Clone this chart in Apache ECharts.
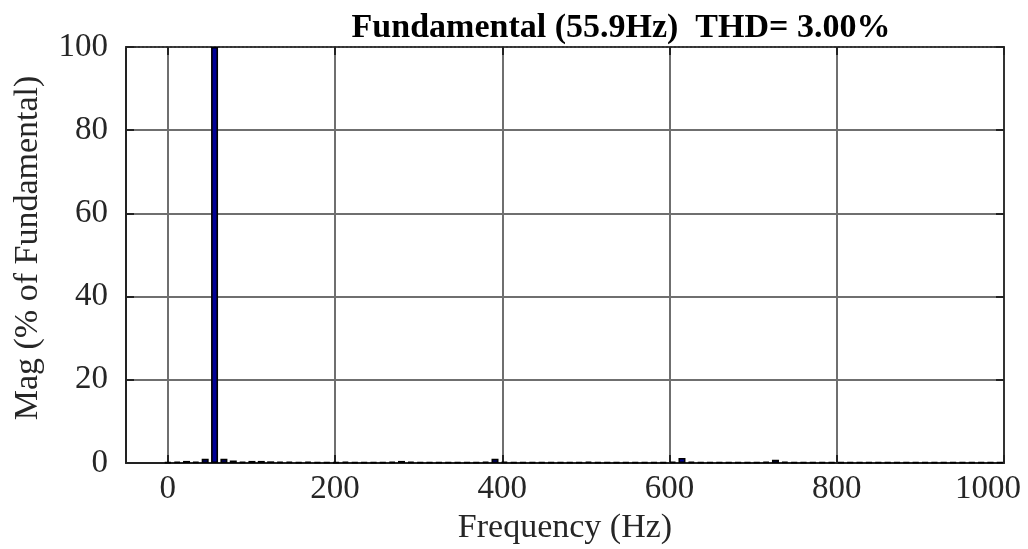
<!DOCTYPE html>
<html>
<head>
<meta charset="utf-8">
<title>FFT spectrum</title>
<script src="https://cdn.jsdelivr.net/npm/echarts@6/dist/echarts.min.js"></script>
<style>
  html, body { margin: 0; padding: 0; background: #fff; }
  #chart { width: 1028px; height: 549px; }
</style>
</head>
<body>
<div id="chart"></div>
<script>
// Harmonic bins of the FFT (Hz), spacing = fundamental / 5
const freqs = [
  0, 11.2, 22.4, 33.5, 44.7, 55.9, 67.1, 78.3, 89.4, 100.6,
  111.8, 123.0, 134.2, 145.3, 156.5, 167.7, 178.9, 190.1, 201.2, 212.4,
  223.6, 234.8, 246.0, 257.1, 268.3, 279.5, 290.7, 301.9, 313.0, 324.2,
  335.4, 346.6, 357.8, 368.9, 380.1, 391.3, 402.5, 413.7, 424.8, 436.0,
  447.2, 458.4, 469.6, 480.7, 491.9, 503.1, 514.3, 525.5, 536.6, 547.8,
  559.0, 570.2, 581.4, 592.5, 603.7, 614.9, 626.1, 637.3, 648.4, 659.6,
  670.8, 682.0, 693.2, 704.3, 715.5, 726.7, 737.9, 749.1, 760.2, 771.4,
  782.6, 793.8, 805.0, 816.1, 827.3, 838.5, 849.7, 860.9, 872.0, 883.2,
  894.4, 905.6, 916.8, 927.9, 939.1, 950.3, 961.5, 972.7, 983.8, 995.0
];

// Magnitude of each bin (% of fundamental)
const mags = [
  0.2, 0.3, 0.5, 0.3, 1.0, 100, 1.0, 0.6, 0.3, 0.5,
  0.5, 0.4, 0.3, 0.3, 0.2, 0.3, 0.2, 0.2, 0.2, 0.3,
  0.2, 0.2, 0.2, 0.2, 0.3, 0.5, 0.3, 0.2, 0.2, 0.2,
  0.2, 0.2, 0.2, 0.2, 0.3, 1.0, 0.3, 0.2, 0.2, 0.2,
  0.2, 0.2, 0.2, 0.2, 0.2, 0.3, 0.2, 0.2, 0.2, 0.2,
  0.2, 0.2, 0.2, 0.2, 0.3, 1.2, 0.3, 0.2, 0.2, 0.2,
  0.2, 0.2, 0.2, 0.2, 0.3, 0.8, 0.3, 0.2, 0.2, 0.2,
  0.2, 0.2, 0.2, 0.2, 0.2, 0.2, 0.2, 0.2, 0.2, 0.2,
  0.2, 0.2, 0.2, 0.2, 0.2, 0.2, 0.2, 0.2, 0.2, 0.2
];

const xTicks = [0, 200, 400, 600, 800, 1000];
const yTicks = [0, 20, 40, 60, 80, 100];

const titleText = 'Fundamental (55.9Hz)  THD= 3.00%';
const xName = 'Frequency (Hz)';
const yName = 'Mag (% of Fundamental)';

const serif = '"Liberation Serif", "DejaVu Serif", serif';
const gridColor = '#6f6f6f';
const inkColor = '#262626';

const chart = echarts.init(document.getElementById('chart'), null, { renderer: 'canvas' });

const option = {
  animation: false,
  backgroundColor: '#fff',
  title: {
    text: titleText,
    left: 616,
    top: 6,
    textAlign: 'center',
    textStyle: { fontFamily: serif, fontWeight: 'bold', fontSize: 34, color: '#000' }
  },
  grid: { left: 126, right: 24, top: 47, bottom: 86, containLabel: false, outerBoundsMode: 'none' },
  // vertical y-axis title, reading bottom to top
  graphic: [
    {
      type: 'text',
      x: 28,
      y: 248,
      rotation: Math.PI / 2,
      style: {
        text: yName,
        font: '34px ' + serif,
        fill: inkColor,
        align: 'center',
        verticalAlign: 'middle'
      }
    }
  ],
  xAxis: [
    {
      type: 'value',
      min: -50,
      max: 1000,
      name: xName,
      nameLocation: 'middle',
      nameGap: 48,
      nameTextStyle: { fontFamily: serif, fontSize: 34, color: inkColor },
      axisLine: { onZero: false, lineStyle: { color: '#222', width: 2 } },
      axisTick: { show: true, inside: true, length: 8, customValues: xTicks, lineStyle: { color: '#222', width: 2 } },
      axisLabel: {
        customValues: xTicks, margin: 10, fontFamily: serif, fontSize: 33, color: inkColor,
        formatter: (v) => (v === 1000 ? '{last|' + v + '}' : String(v)),
        rich: {
          last: { fontFamily: serif, fontSize: 33, color: inkColor, padding: [0, 32, 0, 0] }
        }
      },
      splitLine: { show: true, lineStyle: { color: gridColor, width: 2 } }
    },
    {
      type: 'value',
      position: 'top',
      min: -50,
      max: 1000,
      axisLine: { onZero: false, lineStyle: { color: '#333', width: 2, type: [2, 2] } },
      axisTick: { show: true, inside: true, length: 8, customValues: xTicks, lineStyle: { color: '#222', width: 2 } },
      axisLabel: { show: false },
      splitLine: { show: false }
    }
  ],
  yAxis: [
    {
      type: 'value',
      min: 0,
      max: 100,
      interval: 20,
      axisLine: { show: true, onZero: false, lineStyle: { color: '#222', width: 2 } },
      axisTick: { show: true, inside: true, length: 8, lineStyle: { color: '#222', width: 2 } },
      axisLabel: {
        margin: 18, fontFamily: serif, fontSize: 33, color: inkColor,
        formatter: (v) => (yTicks.indexOf(v) >= 0 ? String(v) : '')
      },
      splitLine: { show: true, lineStyle: { color: gridColor, width: 2 } }
    },
    {
      type: 'value',
      position: 'right',
      min: 0,
      max: 100,
      interval: 20,
      axisLine: { show: true, onZero: false, lineStyle: { color: '#333', width: 2 } },
      axisTick: { show: true, inside: true, length: 8, lineStyle: { color: '#222', width: 2 } },
      axisLabel: { show: false },
      splitLine: { show: false }
    }
  ],
  series: [
    {
      type: 'bar',
      xAxisIndex: 0,
      yAxisIndex: 0,
      barWidth: 7,
      data: freqs.map((f, i) => [f, mags[i]]),
      itemStyle: { color: '#000096', borderColor: '#000', borderWidth: 1.6 },
      z: 5
    }
  ]
};

chart.setOption(option);
</script>
</body>
</html>
